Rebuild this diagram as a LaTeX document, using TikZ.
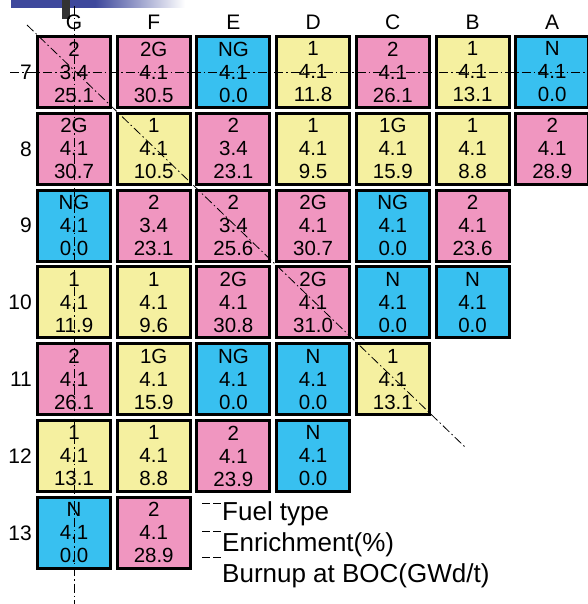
\documentclass[tikz,border=0pt]{standalone}
\usepackage{fontspec}
\setmainfont{Liberation Sans}
\usepackage{tikz}
\usetikzlibrary{positioning}
\usepackage{xcolor}

\definecolor{fuelpink}{RGB}{240,150,192}
\definecolor{fuelyellow}{RGB}{245,240,160}
\definecolor{fuelblue}{RGB}{56,192,240}
\definecolor{slidenavy}{RGB}{62,72,156}

\tikzset{
  fuelcell/.style={draw, line width=3pt, minimum width=73pt, minimum height=71pt,
                   inner sep=0pt, align=center, font=\fontsize{20.5}{23}\selectfont},
  axisline/.style={line width=0.8pt, dash pattern=on 9pt off 3pt on 1.5pt off 3pt},
  coordlabel/.style={font=\fontsize{21}{24}\selectfont, inner sep=1pt},
  legendtext/.style={font=\fontsize{26}{30}\selectfont, anchor=base west, inner sep=0pt}
}

\begin{document}
\begin{tikzpicture}[x=1pt, y=-1pt]
  \useasboundingbox (0,0) rectangle (587,604);
  % slide title bar
  \fill[slidenavy] (11,0) rectangle (95,8);
  \shade[left color=slidenavy, right color=white] (95,0) rectangle (185,8);
  \fill[black!80] (62,0) rectangle (70,19);

  % fuel assemblies: column/index/row/colour/type/enrichment/burnup
  \foreach \cl/\i/\r/\clr/\ft/\en/\bu in {
      G/0/7/fuelpink/2/3.4/25.1, F/1/7/fuelpink/2G/4.1/30.5, E/2/7/fuelblue/NG/4.1/0.0,
      D/3/7/fuelyellow/1/4.1/11.8, C/4/7/fuelpink/2/4.1/26.1, B/5/7/fuelyellow/1/4.1/13.1,
      A/6/7/fuelblue/N/4.1/0.0,
      G/0/8/fuelpink/2G/4.1/30.7, F/1/8/fuelyellow/1/4.1/10.5, E/2/8/fuelpink/2/3.4/23.1,
      D/3/8/fuelyellow/1/4.1/9.5, C/4/8/fuelyellow/1G/4.1/15.9, B/5/8/fuelyellow/1/4.1/8.8,
      A/6/8/fuelpink/2/4.1/28.9,
      G/0/9/fuelblue/NG/4.1/0.0, F/1/9/fuelpink/2/3.4/23.1, E/2/9/fuelpink/2/3.4/25.6,
      D/3/9/fuelpink/2G/4.1/30.7, C/4/9/fuelblue/NG/4.1/0.0, B/5/9/fuelpink/2/4.1/23.6,
      G/0/10/fuelyellow/1/4.1/11.9, F/1/10/fuelyellow/1/4.1/9.6, E/2/10/fuelpink/2G/4.1/30.8,
      D/3/10/fuelpink/2G/4.1/31.0, C/4/10/fuelblue/N/4.1/0.0, B/5/10/fuelblue/N/4.1/0.0,
      G/0/11/fuelpink/2/4.1/26.1, F/1/11/fuelyellow/1G/4.1/15.9, E/2/11/fuelblue/NG/4.1/0.0,
      D/3/11/fuelblue/N/4.1/0.0, C/4/11/fuelyellow/1/4.1/13.1,
      G/0/12/fuelyellow/1/4.1/13.1, F/1/12/fuelyellow/1/4.1/8.8, E/2/12/fuelpink/2/4.1/23.9,
      D/3/12/fuelblue/N/4.1/0.0,
      G/0/13/fuelblue/N/4.1/0.0, F/1/13/fuelpink/2/4.1/28.9}{
    \node[fuelcell, fill=\clr] (\cl\r) at ({74+79.7*\i}, {72+76.8*(\r-7)}) {\ft\\\en\\\bu};
  }

  % symmetry lines
  \draw[axisline] (74,6) -- (74,604);
  \draw[axisline] (10,72) -- (587,72);
  \draw[axisline] (27,25) -- (465,447);

  % column and row labels
  \foreach \cl [count=\i from 0] in {G,F,E,D,C,B,A}{
    \node[coordlabel] (col\cl) at ({74+79.7*\i}, 22) {\cl};
  }
  \foreach \r in {7,...,13}{
    \node[coordlabel, anchor=east] (row\r) at (33, {72+76.8*(\r-7)}) {\r};
  }

  % legend
  \node[legendtext] (legtype) at (222,520) {Fuel type};
  \node[legendtext] (legenr) at ([yshift=-31pt]legtype.base west) {Enrichment(\%)};
  \node[legendtext] (legburn) at ([yshift=-31pt]legenr.base west) {Burnup at BOC(GWd/t)};
  \foreach \yy in {503,531,557}{
    \draw[line width=0.8pt, dash pattern=on 8pt off 3pt] (202,\yy) -- (222,\yy);
  }
\end{tikzpicture}
\end{document}
